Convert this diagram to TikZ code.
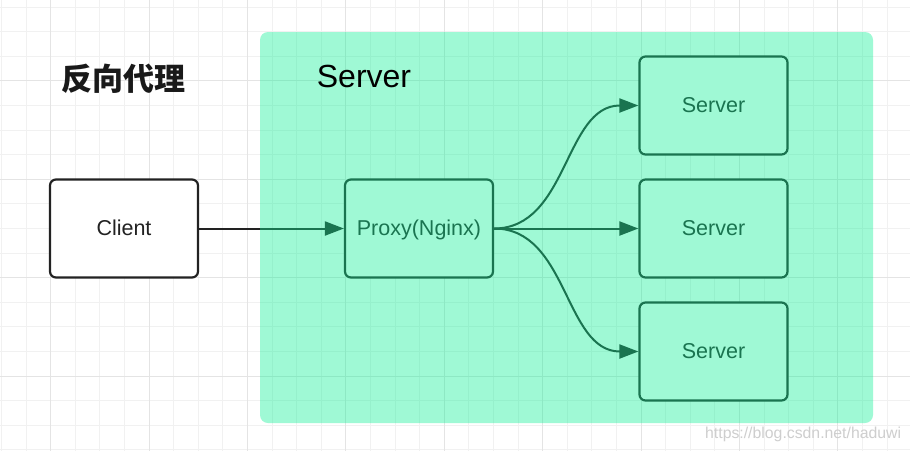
\documentclass[tikz,border=0pt]{standalone}
\usepackage{fontspec}
\setmainfont{Liberation Sans}
\newfontfamily\cjk{Noto Sans CJK SC}
\usetikzlibrary{arrows.meta}
\definecolor{gridminor}{HTML}{F1F1F1}
\definecolor{gridmajor}{HTML}{E4E4E4}
\definecolor{mint}{RGB}{15,240,150}
\definecolor{ink}{HTML}{222222}
\definecolor{wmark}{HTML}{CECECE}
\begin{document}
\begin{tikzpicture}[x=1pt,y=-1pt,
  box/.style={draw=ink, line width=2.2pt, fill=white, rounded corners=6pt,
    minimum width=148pt, minimum height=98pt, inner sep=0pt,
    font=\fontsize{21.5}{24}\selectfont, text=ink, text height=15.5pt, text depth=1.5pt},
  link/.style={draw=ink, line width=2pt, -{Triangle[length=19pt,width=14pt]}},
  gridline/.style={gridminor, line width=1pt},
  gridmaj/.style={gridmajor, line width=1pt},
]
\useasboundingbox (0,0) rectangle (910,451);
\fill[white] (0,0) rectangle (910,451);
% grid
\foreach \k [evaluate=\k as \xx using 1.5+24.6*\k] in {0,...,36}
  \draw[gridline] (\xx,0) -- (\xx,451);
\foreach \k [evaluate=\k as \yy using 7+24.6*\k] in {0,...,18}
  \draw[gridline] (0,\yy) -- (910,\yy);
\foreach \k [evaluate=\k as \xx using 1.5+24.6*\k] in {2,6,...,34}
  \draw[gridmaj] (\xx,0) -- (\xx,451);
\foreach \k [evaluate=\k as \yy using 7+24.6*\k] in {3,7,11,15}
  \draw[gridmaj] (0,\yy) -- (910,\yy);

% boxes
\node[box] (client) at (124,228.5) {Client};
\node[box] (proxy) at (419,228.5) {Proxy(Nginx)};
\node[box] (s1) at (713.5,105.5) {Server};
\node[box] (s2) at (713.5,228.5) {Server};
\node[box] (s3) at (713.5,351.5) {Server};

% connectors
\draw[link] (client) -- (proxy);
\draw[link] (proxy.east) to[out=0,in=180] (s1.west);
\draw[link] (proxy.east) -- (s2.west);
\draw[link] (proxy.east) to[out=0,in=180] (s3.west);

% translucent server zone
\fill[mint, fill opacity=0.4, rounded corners=8pt] (260,32) rectangle (873,423);

% labels
\node[font=\cjk\bfseries\fontsize{31}{34}\selectfont, text=black!90, inner sep=0pt] (title) at (123,78.5) {反向代理};
\node[font=\fontsize{32}{36}\selectfont, text=black, inner sep=0pt] (zone) at (364,76.5) {Server};
\node[font=\fontsize{15.8}{18}\selectfont, text=wmark, anchor=base west, inner sep=0pt] (wm) at (705,438.5) {https://blog.csdn.net/haduwi};
\end{tikzpicture}
\end{document}
